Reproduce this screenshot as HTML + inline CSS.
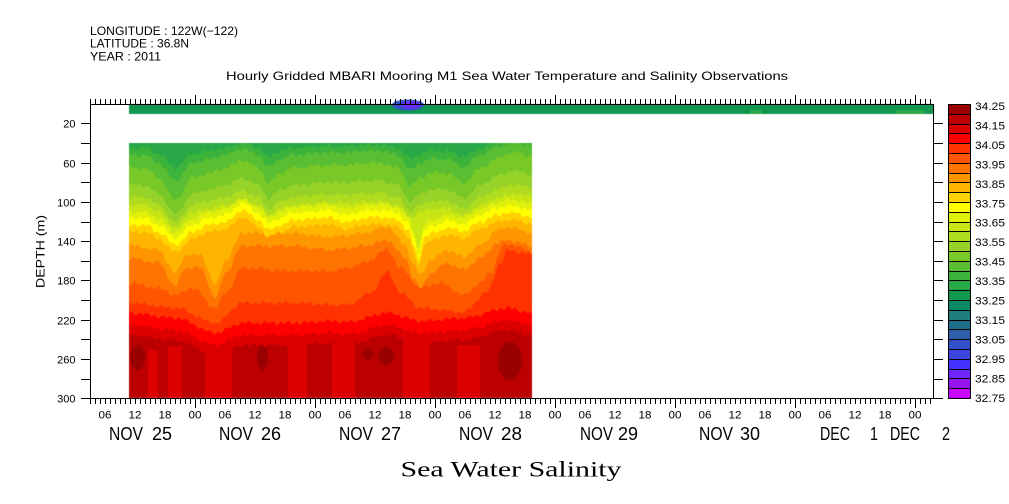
<!DOCTYPE html>
<html><head><meta charset="utf-8">
<style>
html,body{margin:0;padding:0;background:#fff;width:1009px;height:504px;overflow:hidden}
#c{position:absolute;left:0;top:0}
#s{position:absolute;left:0;top:0}
text{font-family:"Liberation Sans",sans-serif;fill:#000}
</style></head><body>
<canvas id="c" width="1009" height="504"></canvas>
<svg id="s" width="1009" height="504" xmlns="http://www.w3.org/2000/svg">
<text x="90" y="35" font-size="12" textLength="148" lengthAdjust="spacingAndGlyphs">LONGITUDE : 122W(−122)</text>
<text x="90" y="47.5" font-size="12" textLength="99" lengthAdjust="spacingAndGlyphs">LATITUDE : 36.8N</text>
<text x="90" y="60.5" font-size="12" textLength="71" lengthAdjust="spacingAndGlyphs">YEAR : 2011</text>
<text x="226" y="80" font-size="12" textLength="562" lengthAdjust="spacingAndGlyphs">Hourly Gridded MBARI Mooring M1 Sea Water Temperature and Salinity Observations</text>
<text transform="translate(44.5,251.5) rotate(-90)" text-anchor="middle" font-size="12" textLength="73" lengthAdjust="spacingAndGlyphs">DEPTH (m)</text>
<text x="400.5" y="476.5" font-size="22" style="font-family:'Liberation Serif',serif" textLength="221" lengthAdjust="spacingAndGlyphs">Sea Water Salinity</text>
<g id="lab"></g>
<g id="cb"></g>
<path id="tk" fill="none" stroke="#000" stroke-width="1" d=""/>
<rect x="90.5" y="104.5" width="843" height="294" fill="none" stroke="#000" stroke-width="1"/>
</svg>
<script>
(function(){
const C=[null,'#9a0000','#bc0000','#dc0000','#ff0000','#ff3200','#ff5500','#ff7300','#ff9600','#ffb400','#ffd200','#ffff00','#e1f00a','#c8e614','#afdc1e','#96d228','#78c828','#5abe32','#3cb43c','#28a846','#129650','#0a8a64','#1e7d7d','#1e6e8c','#2d5faa','#3250c8','#3c46dc','#4632ff','#6e28ff','#9614f0','#c800ff'];
const cv=document.getElementById('c');const ctx=cv.getContext('2d');
function interp(tab,x){if(x<=tab[0][0])return tab[0][1];for(let i=1;i<tab.length;i++){if(x<=tab[i][0]){const a=tab[i-1],b=tab[i];const t=(x-a[0])/(b[0]-a[0]);const s=t*t*(3-2*t);return a[1]+(b[1]-a[1])*s;}}return tab[tab.length-1][1];}
const REF={18:148,17:155,16:168,15:185,14:197,13:205,12:212,11:218,10:225,9:232,8:245,7:258,6:283,5:303,4:313,3:325,2:335};
const gS={18:0.6,17:0.8,16:1,15:0.9,14:0.8,13:0.7};
const Dg=[[129,0],[145,0],[158,10],[175,32],[192,10],[208,5],[225,0],[242,-8],[258,0],[268,15],[280,5],[292,0],[325,-3],[347,-3],[363,-5],[380,-5],[397,0],[410,18],[420,10],[430,5],[447,5],[463,15],[480,0],[497,-10],[513,-16],[531,-12]];
const Du=[[129,0],[145,0],[158,7],[175,20],[192,7],[208,0],[225,-3],[242,-15],[258,-5],[268,5],[280,0],[292,-5],[310,-6],[325,-8],[347,-3],[363,-7],[380,-8],[397,-5],[408,5],[413,20],[418,35],[424,12],[432,8],[447,3],[463,6],[480,-3],[497,-10],[507,-12],[513,-12],[531,-8]];
const Dm=[[129,0],[158,5],[175,28],[185,10],[200,10],[215,40],[225,15],[242,-12],[292,-12],[330,-8],[347,-10],[363,-12],[387,-18],[405,0],[413,20],[420,30],[430,15],[447,5],[463,12],[480,0],[497,-15],[507,-18],[531,-12]];
const Dl6=[[129,0],[158,5],[175,12],[192,5],[215,25],[225,10],[242,-15],[292,-12],[330,-12],[347,-15],[363,-20],[387,-33],[400,-15],[420,5],[440,0],[463,12],[480,0],[490,-10],[503,-38],[515,-38],[531,-30]];
const Dl5=[[129,0],[175,5],[215,20],[242,0],[292,0],[347,2],[370,-10],[387,-31],[400,-10],[420,5],[463,9],[487,-11],[500,-40],[507,-53],[520,-50],[531,-50]];
const Dr=[[129,0],[175,5],[215,20],[242,10],[292,10],[330,8],[347,9],[387,0],[420,8],[463,5],[507,-5],[531,0]];
const stripes=[[148,158,350],[168,182,346],[205,232,341],[288,307,342],[332,355,338],[403,430,340],[457,480,345]];
const blobs=[[137.5,357.5,7.5,12.5],[262.5,357.5,5.5,12.5],[368,354,5,6],[386,356,8,9],[510,361,12,19]];
// top strip
ctx.fillStyle=C[20];ctx.fillRect(129,104,805,10);
ctx.fillStyle=C[19];ctx.fillRect(750,110,12,4);ctx.fillRect(895,110,30,4);
ctx.fillStyle=C[25];ctx.beginPath();ctx.ellipse(408,105,16,5.5,0,0,Math.PI*2);ctx.fill();
ctx.fillStyle=C[28];ctx.beginPath();ctx.ellipse(411,105,10,3.5,0,0,Math.PI*2);ctx.fill();
ctx.fillStyle='#fff';ctx.fillRect(380,114,60,6);
// main field
for(let x=129;x<532;x++){
  const B={};
  const g=interp(Dg,x),u=interp(Du,x),m=interp(Dm,x),l6=interp(Dl6,x),l5=interp(Dl5,x),r=interp(Dr,x);
  for(let k=18;k>=2;k--){
    let d;
    if(k>=13)d=g*gS[k];else if(k>=9)d=u;else if(k>=7)d=m;else if(k==6)d=l6;else if(k==5)d=l5;else d=r;
    const n=1.2*Math.sin(x*0.8+k*1.7)+0.8*Math.sin(x*0.31+k*0.9);
    B[k]=REF[k]+d+n;
  }
  for(let k=17;k>=2;k--){if(B[k]<B[k+1])B[k]=B[k+1];}
  let prev=-1,start=143;
  for(let y=143;y<=398;y++){
    let box=-2;
    if(y<398){
      box=19;
      for(let k=18;k>=2;k--){if(y+0.5>=B[k])box=k;}
      if(box==2){
        for(const s of stripes){if(x>=s[0]&&x<s[1]&&y>=s[2]){box=3;break;}}
        for(const b of blobs){const dx=(x+0.5-b[0])/b[2],dy=(y+0.5-b[1])/b[3];if(dx*dx+dy*dy<=1){box=1;break;}}
      }
    }
    if(box!==prev){
      if(prev>0){ctx.fillStyle=C[prev];ctx.fillRect(x,start,1,y-start);}
      prev=box;start=y;
    }
  }
}
// ticks
let d='';
for(let k=3;75+5*k<=933;k++){const xx=75+5*k+0.5;if(k%24==0){d+='M'+xx+' 95V104M'+xx+' 399V408';}else{d+='M'+xx+' 99V104M'+xx+' 399V404';}}
const yd=v=>123.3+(v-20)*0.9821;
for(let v=20;v<=300;v+=20){const yy=Math.round(yd(v))+0.5;d+='M81 '+yy+'H90M933 '+yy+'H943';}
document.getElementById('tk').setAttribute('d',d);
const NS='http://www.w3.org/2000/svg';
const lab=document.getElementById('lab');
function T(x,y,s,fs,anchor,tl){const t=document.createElementNS(NS,'text');t.setAttribute('x',x);t.setAttribute('y',y);t.setAttribute('font-size',fs);if(anchor)t.setAttribute('text-anchor',anchor);if(tl){t.setAttribute('textLength',tl);t.setAttribute('lengthAdjust','spacingAndGlyphs');}t.textContent=s;lab.appendChild(t);return t;}
const hrs=['00','06','12','18'];
for(let k=6;75+5*k<=915;k+=6){T(75+5*k,418.5,hrs[(k/6)%4],11,'middle',13);}
for(let v=20;v<=300;v+=40){T(75.5,Math.round(yd(v))+4.5,String(v),11,'end',null);}
const dates=[[109,'NOV',34,152,'25',20],[219,'NOV',34,261,'26',20],[339,'NOV',34,381,'27',20],[459,'NOV',34,501,'28',21],[580,'NOV',33,618,'29',20],[699,'NOV',34,740,'30',20],[820,'DEC',30,870,'1',8],[890,'DEC',30,942,'2',8]];
for(const q of dates){T(q[0],440,q[1],18,null,q[2]);T(q[3],440,q[4],18,null,q[5]);}
// colorbar
const cb=document.getElementById('cb');
for(let i=0;i<30;i++){const y0=104+Math.round(i*294/30),y1=104+Math.round((i+1)*294/30);const r=document.createElementNS(NS,'rect');r.setAttribute('x',948.5);r.setAttribute('y',y0+0.5);r.setAttribute('width',22);r.setAttribute('height',y1-y0);r.setAttribute('fill',C[i+1]);r.setAttribute('stroke','#000');r.setAttribute('stroke-width','1');cb.appendChild(r);}
for(let j=0;j<=15;j++){T(975,110+j*19.45,(34.25-0.1*j).toFixed(2),11,null,30);}
})();
</script>
</body></html>
